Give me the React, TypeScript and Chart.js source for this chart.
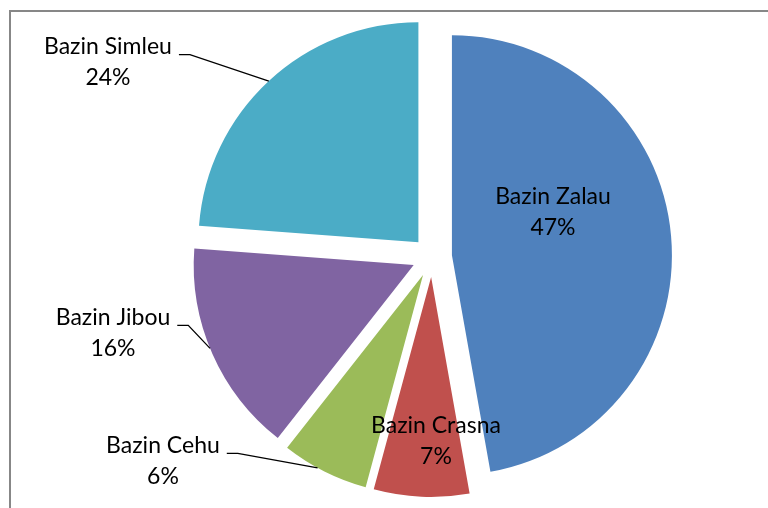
import React, { useEffect, useRef } from "react";
import { Chart, registerables } from "chart.js";

Chart.register(...registerables);

// ---- data ----
const categories = ["Bazin Zalau", "Bazin Crasna", "Bazin Cehu", "Bazin Jibou", "Bazin Simleu"];
const values = [47.2, 7.0, 6.4, 15.6, 23.8];
const percentLabels = ["47%", "7%", "6%", "16%", "24%"];
const colors = ["#4F81BD", "#C0504D", "#9BBB59", "#8064A2", "#4BACC6"];

// ---- layout config (label block centres in radius units from the pie centre) ----
const labelPlacement = [
  { dx: 0.55, dy: -0.205, leader: false, angleShift: 0 },
  { dx: 0.018, dy: 0.836, leader: false, angleShift: 0 },
  { dx: -1.223, dy: 0.927, leader: true, angleShift: 2 },
  { dx: -1.45, dy: 0.345, leader: true, angleShift: 1.5 },
  { dx: -1.473, dy: -0.886, leader: true, angleShift: 0 },
];
const EXPLODE = 20;
const RADIUS = 220;
const FONT = "23px Lato, 'Open Sans', sans-serif";
const LINE_GAP = 31;

const explodePlugin = {
  id: "explode",
  beforeDatasetDraw(chart: any, args: any) {
    const ctx = chart.ctx;
    args.meta.data.forEach((arc: any) => {
      const mid = (arc.startAngle + arc.endAngle) / 2;
      ctx.save();
      ctx.translate(Math.cos(mid) * EXPLODE, Math.sin(mid) * EXPLODE);
      arc.draw(ctx, chart.chartArea);
      ctx.restore();
    });
    return false;
  },
};

const framePlugin = {
  id: "frame",
  beforeDraw(chart: any) {
    const ctx = chart.ctx;
    ctx.save();
    ctx.fillStyle = "#ffffff";
    ctx.fillRect(0, 0, chart.width, chart.height);
    ctx.fillStyle = "#878787";
    ctx.fillRect(9, 10, chart.width - 9, 2);
    ctx.fillRect(9, 10, 2, chart.height - 10);
    ctx.restore();
  },
};

const labelPlugin = {
  id: "sliceLabels",
  afterDatasetsDraw(chart: any) {
    const ctx = chart.ctx;
    const meta = chart.getDatasetMeta(0);
    ctx.save();
    ctx.font = FONT;
    ctx.fillStyle = "#000000";
    ctx.textAlign = "center";
    ctx.textBaseline = "middle";
    meta.data.forEach((arc: any, i: number) => {
      const cx = arc.x;
      const cy = arc.y;
      const R = arc.outerRadius;
      const pl = labelPlacement[i];
      const bx = cx + pl.dx * R;
      const by = cy + pl.dy * R;
      const l1 = by - LINE_GAP / 2;
      const l2 = by + LINE_GAP / 2;
      ctx.fillText(categories[i], bx, l1);
      ctx.fillText(percentLabels[i], bx, l2);
      if (pl.leader) {
        const w = ctx.measureText(categories[i]).width;
        const mid = (arc.startAngle + arc.endAngle) / 2;
        const ang = mid + (pl.angleShift * Math.PI) / 180;
        const ox = cx + Math.cos(mid) * EXPLODE;
        const oy = cy + Math.sin(mid) * EXPLODE;
        const ex = ox + Math.cos(ang) * R;
        const ey = oy + Math.sin(ang) * R;
        const x0 = bx + w / 2 + 7;
        const y0 = l1 + 8;
        ctx.beginPath();
        ctx.strokeStyle = "#000000";
        ctx.lineWidth = 1.3;
        ctx.moveTo(x0, y0);
        ctx.lineTo(x0 + 11, y0);
        ctx.lineTo(ex, ey);
        ctx.stroke();
      }
    });
    ctx.restore();
  },
};

export default function App() {
  const canvasRef = useRef<HTMLCanvasElement | null>(null);

  useEffect(() => {
    if (!canvasRef.current) return;
    const chart = new Chart(canvasRef.current, {
      type: "pie",
      data: {
        labels: categories,
        datasets: [
          {
            data: values,
            backgroundColor: colors,
            borderWidth: 0,
          },
        ],
      },
      options: {
        responsive: false,
        animation: false,
        radius: RADIUS,
        layout: { padding: { left: 96, right: 0, top: 6, bottom: 0 } },
        plugins: {
          legend: { display: false },
          tooltip: { enabled: false },
        },
      } as any,
      plugins: [framePlugin, explodePlugin, labelPlugin],
    });
    return () => chart.destroy();
  }, []);

  return (
    <div style={{ position: "absolute", left: 0, top: 0, width: 768, height: 508 }}>
      <canvas ref={canvasRef} width={768} height={508} style={{ display: "block" }} />
    </div>
  );
}
